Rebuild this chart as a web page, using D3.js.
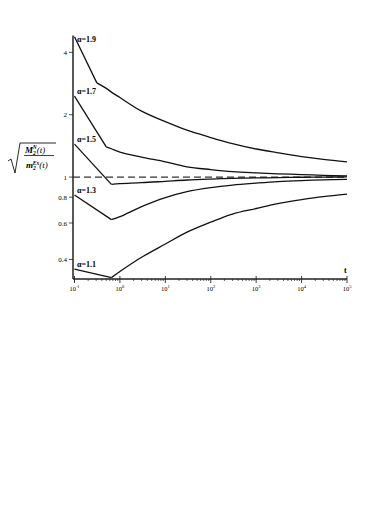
<!DOCTYPE html>
<html>
<head>
<meta charset="utf-8">
<script src="https://cdn.jsdelivr.net/npm/d3@7"></script>
<style>
  body { margin: 0; background: #fff; }
  svg { display: block; font-family: "Liberation Serif", "DejaVu Serif", serif; }
</style>
</head>
<body>
<svg id="chart"></svg>
<script>
// time grid (t), shared by all curves; null = no point for that curve
var times = [0.1, 0.31, 0.5, 0.65, 1, 3, 10, 30, 100, 300, 1000, 3000, 10000, 30000, 100000]

var alphas = ["1.9", "1.7", "1.5", "1.3", "1.1"]

var ratio19 = [4.76, 2.85, 2.68, 2.57, 2.42, 2.08, 1.85, 1.683, 1.552, 1.451, 1.366, 1.31, 1.256, 1.218, 1.185]
var ratio17 = [2.46, null, 1.40, 1.37, 1.32, 1.249, 1.185, 1.121, 1.087, 1.063, 1.048, 1.037, 1.028, 1.020, 1.013]
var ratio15 = [1.443, null, null, 0.922, 0.930, 0.939, 0.954, 0.968, 0.978, 0.985, 0.990, 0.994, 0.998, 1.0, 1.001]
var ratio13 = [0.819, null, null, 0.623, 0.644, 0.720, 0.796, 0.851, 0.890, 0.915, 0.935, 0.951, 0.962, 0.969, 0.975]
var ratio11 = [0.359, null, null, 0.327, 0.350, 0.410, 0.475, 0.542, 0.606, 0.663, 0.705, 0.745, 0.778, 0.805, 0.828]

var yTicks = [0.4, 0.6, 0.8, 1, 2, 4]
var yTickLabels = ["0.4", "0.6", "0.8", "1", "2", "4"]
var xTicks = [0.1, 1, 10, 100, 1000, 10000, 100000]
var xTickExps = ["-1", "0", "1", "2", "3", "4", "5"]

var initGraph = function(target)
{
    var screen = {width:374, height:528}
    var axisX = 73
    var axisY = 279

    var svg = d3.select(target)
        .attr("width", screen.width)
        .attr("height", screen.height)

    svg.append("rect")
        .attr("width", screen.width)
        .attr("height", screen.height)
        .attr("fill", "white")

    var xScale = d3.scaleLog()
        .domain([0.1, 100000])
        .range([74.5, 347])

    var yScale = d3.scaleLog()
        .domain([0.322, 4.76])
        .range([axisY, 36.7])

    var series = [ratio19, ratio17, ratio15, ratio13, ratio11].map(function(vals, i)
    {
        return {
            alpha: alphas[i],
            points: times.map(function(t, j) { return {t:t, v:vals[j]} })
                .filter(function(p) { return p.v != null })
        }
    })

    // reference line at 1
    svg.append("line")
        .attr("x1", axisX)
        .attr("x2", xScale(100000))
        .attr("y1", yScale(1))
        .attr("y2", yScale(1))
        .attr("stroke", "#333")
        .attr("stroke-width", 1.3)
        .attr("stroke-dasharray", "7,4")

    var straight = d3.line()
        .x(function(p) { return xScale(p.t) })
        .y(function(p) { return yScale(p.v) })

    var smooth = d3.line()
        .x(function(p) { return xScale(p.t) })
        .y(function(p) { return yScale(p.v) })
        .curve(d3.curveCatmullRom.alpha(0.5))

    // straight segment from t=0.1 to the kink, smooth afterwards
    var lines = svg.append("g")
        .attr("fill", "none")
        .attr("stroke", "#111")
        .attr("stroke-width", 1.3)
        .attr("stroke-linejoin", "round")

    series.forEach(function(s)
    {
        lines.append("path").attr("d", straight(s.points.slice(0, 2)))
        lines.append("path").attr("d", smooth(s.points.slice(1)))
    })

    // curve labels
    svg.append("g")
        .selectAll("text")
        .data(series)
        .enter()
        .append("text")
        .attr("x", 77)
        .attr("y", function(s) { return Math.max(yScale(s.points[0].v) - 2, 42) })
        .attr("font-size", 8)
        .attr("font-weight", "bold")
        .text(function(s) { return "\u03b1=" + s.alpha })

    // y axis
    var yAxis = svg.append("g").attr("stroke", "#222")
    yAxis.append("line")
        .attr("x1", axisX).attr("x2", axisX)
        .attr("y1", 35.5).attr("y2", axisY)
        .attr("stroke-width", 1.5)
    yAxis.selectAll(".yt")
        .data(yTicks)
        .enter()
        .append("line")
        .attr("x1", axisX - 4).attr("x2", axisX)
        .attr("y1", function(d) { return yScale(d) })
        .attr("y2", function(d) { return yScale(d) })
        .attr("stroke-width", 0.8)
    svg.append("g")
        .selectAll("text")
        .data(yTicks)
        .enter()
        .append("text")
        .attr("x", axisX - 6)
        .attr("y", function(d) { return yScale(d) + 2.5 })
        .attr("text-anchor", "end")
        .attr("font-size", 7)
        .text(function(d, i) { return yTickLabels[i] })

    // x axis
    var xAxis = svg.append("g").attr("stroke", "#222")
    xAxis.append("line")
        .attr("x1", axisX).attr("x2", xScale(100000))
        .attr("y1", axisY).attr("y2", axisY)
        .attr("stroke-width", 1.5)
    var minor = []
    for (var e = -1; e < 5; e++)
        for (var m = 2; m < 10; m++) minor.push(m * Math.pow(10, e))
    xAxis.selectAll(".xm")
        .data(minor)
        .enter()
        .append("line")
        .attr("x1", function(d) { return xScale(d) })
        .attr("x2", function(d) { return xScale(d) })
        .attr("y1", axisY).attr("y2", axisY + 2)
        .attr("stroke-width", 0.7)
    xAxis.selectAll(".xt")
        .data(xTicks)
        .enter()
        .append("line")
        .attr("x1", function(d) { return xScale(d) })
        .attr("x2", function(d) { return xScale(d) })
        .attr("y1", axisY - 3).attr("y2", axisY + 4)
        .attr("stroke-width", 0.9)
    var xl = svg.append("g")
        .selectAll("text")
        .data(xTicks)
        .enter()
        .append("text")
        .attr("x", function(d) { return xScale(d) })
        .attr("y", axisY + 12)
        .attr("text-anchor", "middle")
        .attr("font-size", 6.5)
    xl.append("tspan").text("10")
    xl.append("tspan")
        .attr("dy", -3)
        .attr("font-size", 4.5)
        .text(function(d, i) { return xTickExps[i] })

    svg.append("text")
        .attr("x", 344)
        .attr("y", 273)
        .attr("font-size", 8)
        .attr("font-weight", "bold")
        .text("t")

    // y axis title: sqrt(M2N(t) / m2Ex(t))
    var title = svg.append("g")
    title.append("path")
        .attr("d", "M8,161 L11,159 L15,173 L20,143 L56,143")
        .attr("fill", "none")
        .attr("stroke", "#111")
        .attr("stroke-width", 0.9)
    title.append("line")
        .attr("x1", 24).attr("x2", 54)
        .attr("y1", 155.5).attr("y2", 155.5)
        .attr("stroke", "#111")
        .attr("stroke-width", 0.8)
    var num = title.append("text")
        .attr("x", 25).attr("y", 153)
        .attr("font-size", 9)
        .attr("font-style", "italic")
        .attr("font-weight", "bold")
    num.append("tspan").text("M")
    num.append("tspan").attr("font-size", 5.5).attr("dy", 2).text("2")
    num.append("tspan").attr("font-size", 5.5).attr("dx", -3).attr("dy", -6.5).text("N")
    num.append("tspan").attr("dy", 4.5).attr("font-weight", "normal").text("(t)")
    var den = title.append("text")
        .attr("x", 26).attr("y", 168)
        .attr("font-size", 9)
        .attr("font-style", "italic")
        .attr("font-weight", "bold")
    den.append("tspan").text("m")
    den.append("tspan").attr("font-size", 5.5).attr("dy", 2).text("2")
    den.append("tspan").attr("font-size", 5.5).attr("dx", -3).attr("dy", -5.5).text("Ex")
    den.append("tspan").attr("dy", 3.5).attr("font-weight", "normal").text("(t)")
}

initGraph("#chart")
</script>
</body>
</html>
